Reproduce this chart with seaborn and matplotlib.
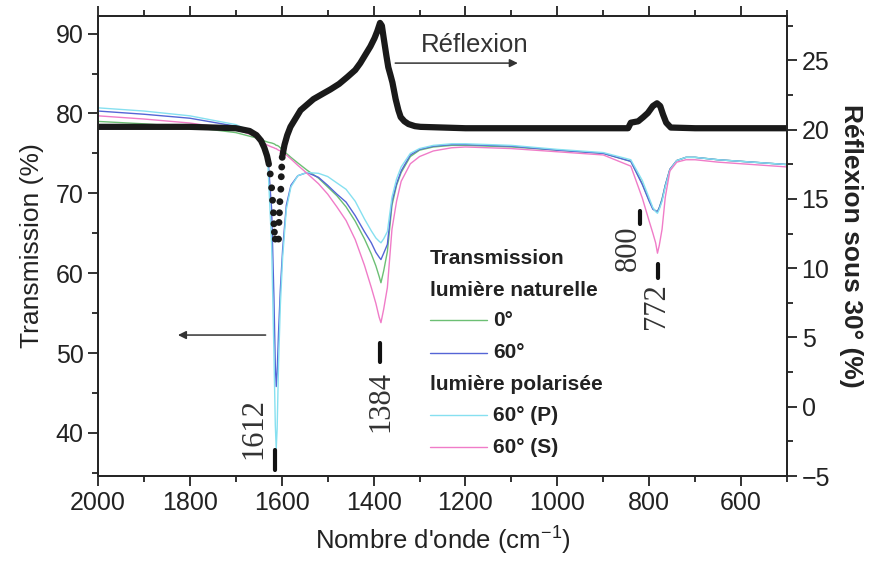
import numpy as np
import pandas as pd
import matplotlib
matplotlib.use("Agg")
import matplotlib.pyplot as plt
from matplotlib.ticker import MultipleLocator
import seaborn as sns

# transmission spectra (left axis, %)
wn = [2000, 1900, 1800, 1700, 1660, 1640, 1630, 1622, 1617, 1614,
      1612, 1610, 1607, 1603, 1598, 1590, 1580, 1565, 1545, 1520,
      1500, 1480, 1460, 1440, 1420, 1405, 1395, 1388, 1384, 1378,
      1370, 1360, 1350, 1340, 1320, 1300, 1270, 1230, 1200, 1100,
      1000, 900, 840, 815, 800, 792, 786, 782, 778, 772,
      765, 755, 740, 720, 700, 650, 600, 550, 500]
t_0 = [79.0, 78.7, 78.3, 77.6, 77.0, 76.6, 76.4, 76.3, 76.2, 76.1,
       76.0, 76.0, 75.9, 75.7, 75.4, 75.0, 74.5, 73.8, 72.9, 71.9,
       70.8, 69.7, 68.3, 66.5, 64.3, 62.4, 60.9, 59.6, 58.8, 60.3,
       62.7, 68.5, 71.0, 72.6, 74.6, 75.4, 75.8, 76.0, 76.0, 75.8,
       75.4, 75.0, 74.0, 71.2, 69.1, 68.1, 67.8, 67.7, 68.2, 69.3,
       71.0, 73.0, 74.1, 74.5, 74.5, 74.2, 74.0, 73.8, 73.6]
t_60 = [80.3, 79.9, 79.4, 78.4, 77.5, 76.4, 74.5, 68.0, 57.0, 48.5,
        45.8, 47.5, 52.5, 58.0, 63.0, 68.5, 71.0, 72.2, 72.6, 72.0,
        71.0, 69.9, 68.9, 67.2, 65.2, 63.8, 62.6, 62.0, 61.7, 62.5,
        63.6, 69.0, 71.2, 72.8, 74.8, 75.5, 75.9, 76.1, 76.1, 75.9,
        75.4, 75.0, 74.0, 71.1, 69.0, 68.0, 67.8, 67.7, 68.2, 69.2,
        71.0, 73.0, 74.1, 74.5, 74.5, 74.2, 74.0, 73.8, 73.6]
t_p = [80.7, 80.3, 79.7, 78.6, 77.6, 76.5, 73.5, 63.5, 50.0, 41.0,
       38.0, 40.5, 48.5, 56.0, 62.0, 68.0, 70.8, 72.2, 72.6, 72.5,
       72.1, 71.3, 70.5, 69.0, 66.8, 65.3, 64.4, 64.0, 63.8, 64.3,
       65.2, 69.5, 71.8, 73.3, 75.0, 75.6, 76.0, 76.2, 76.2, 76.0,
       75.5, 75.1, 74.2, 71.6, 69.4, 68.2, 67.7, 67.5, 68.0, 69.0,
       70.8, 72.9, 74.1, 74.5, 74.5, 74.2, 74.0, 73.8, 73.6]
t_s = [79.7, 79.3, 78.8, 78.0, 77.2, 76.3, 76.0, 75.8, 75.7, 75.6,
       75.6, 75.5, 75.4, 75.3, 75.1, 74.8, 74.3, 73.5, 72.5, 71.2,
       69.9, 68.3, 66.6, 64.2, 61.0, 58.2, 56.2, 54.5, 53.8, 55.5,
       58.2, 65.5, 69.0, 71.5, 73.7, 74.6, 75.3, 75.7, 75.8, 75.6,
       75.2, 74.8, 73.4, 69.4, 66.5, 65.0, 63.8, 62.5, 63.5, 65.5,
       69.5, 72.8, 73.9, 74.2, 74.2, 73.9, 73.7, 73.5, 73.3]

# reflexion at 30 deg (right axis, %)
r_wn_a = [2000, 1900, 1800, 1700, 1670, 1655, 1645, 1638, 1632, 1628]
r_a = [20.2, 20.2, 20.2, 20.1, 19.9, 19.6, 19.2, 18.7, 18.1, 17.5]
dip_wn = [1625, 1622, 1620, 1618, 1617, 1616, 1614,
          1607, 1606, 1605, 1604, 1602, 1601, 1600, 1599]
dip_r = [16.8, 15.8, 14.9, 14.0, 13.2, 12.6, 12.1,
         12.1, 13.3, 14.0, 14.8, 15.7, 16.6, 17.3, 18.0]
r_wn_b = [1598, 1594, 1588, 1581, 1570, 1559, 1545, 1531, 1510, 1494,
          1475, 1457, 1440, 1429, 1418, 1407, 1398, 1392, 1386, 1382,
          1378, 1372, 1368, 1363, 1359, 1352, 1346, 1341, 1333, 1324,
          1310, 1298, 1200, 1000, 900, 846, 840, 824, 813, 803,
          792, 783, 776, 770, 763, 753, 700, 600, 500]
r_b = [18.2, 18.9, 19.6, 20.2, 20.8, 21.4, 21.8, 22.2, 22.6, 22.9,
       23.3, 23.8, 24.3, 24.8, 25.4, 26.0, 26.6, 27.1, 27.7, 27.5,
       26.6, 25.3, 24.5, 23.9, 23.4, 22.2, 21.4, 20.9, 20.6, 20.4,
       20.25, 20.2, 20.1, 20.1, 20.1, 20.1, 20.5, 20.6, 20.9, 21.2,
       21.7, 21.9, 21.7, 21.1, 20.5, 20.15, 20.1, 20.1, 20.1]

# band labels
band_labels = ["1612", "1384", "800", "772"]
band_text_x = [1660, 1385, 846, 785]
band_text_y = [40.6, 43.9, 63.1, 55.9]
band_mark_x = [1614, 1385, 820, 781]
band_mark_lo = [35.4, 48.9, 66.1, 59.4]
band_mark_hi = [37.9, 51.2, 67.8, 61.2]

series_names = ["0°", "60°", "60° (P)", "60° (S)"]
series_vals = [t_0, t_60, t_p, t_s]
colors = ["#6cbf74", "#5565d6", "#86e0f0", "#f07cc8"]

sns.set_style("ticks")
plt.rcParams["font.family"] = ["Liberation Sans", "DejaVu Sans"]
plt.rcParams["mathtext.fontset"] = "custom"
plt.rcParams["mathtext.rm"] = "Liberation Sans"

fig = plt.figure(figsize=(8.73, 5.66), dpi=100)
ax = fig.add_axes([98 / 873, 1 - 476 / 566, 689 / 873, 460 / 566])

for name, vals, c in zip(series_names, series_vals, colors):
    sns.lineplot(x=wn, y=vals, ax=ax, color=c, lw=1.0, sort=False,
                 estimator=None)

ax.set_xlim(2000, 500)
ax.set_ylim(34.6, 92.2)
ax.xaxis.set_major_locator(MultipleLocator(200))
ax.xaxis.set_minor_locator(MultipleLocator(100))
ax.yaxis.set_major_locator(MultipleLocator(10))
ax.yaxis.set_minor_locator(MultipleLocator(5))
ax.tick_params(which="both", direction="out", width=1.3, top=True,
               labelsize=18, colors="#222222")
ax.tick_params(which="major", length=7)
ax.tick_params(which="minor", length=4)
ax.set_xlabel("Nombre d'onde (cm$^{-1}$)", fontsize=18.5, color="#222222",
              labelpad=6)
ax.set_ylabel("Transmission (%)", fontsize=19, color="#222222", labelpad=8)
for s in ax.spines.values():
    s.set_linewidth(1.4)

ax2 = ax.twinx()
sns.lineplot(x=r_wn_a, y=r_a, ax=ax2, color="#1a1a1a", lw=4.5,
             sort=False, estimator=None)
sns.lineplot(x=r_wn_b, y=r_b, ax=ax2, color="#1a1a1a", lw=4.5,
             sort=False, estimator=None)
sns.scatterplot(x=dip_wn, y=dip_r, ax=ax2, color="#1a1a1a", s=24,
                edgecolor="none")
ax2.set_xlim(2000, 500)
ax2.set_ylim(-5, 28.2)
ax2.yaxis.set_major_locator(MultipleLocator(5))
ax2.yaxis.set_minor_locator(MultipleLocator(2.5))
ax2.tick_params(which="both", direction="out", width=1.3, labelsize=18,
                colors="#222222")
ax2.tick_params(which="major", length=7)
ax2.tick_params(which="minor", length=4)
ax2.set_ylabel("Réflexion sous 30° (%)", fontsize=19, fontweight="bold",
               rotation=270, labelpad=24, color="#222222")
for s in ax2.spines.values():
    s.set_linewidth(1.4)

# arrows and labels
ax2.annotate("", xy=(1080, 24.8), xytext=(1359, 24.8),
             arrowprops=dict(arrowstyle="-|>", color="#333333", lw=1.1,
                             mutation_scale=12))
ax2.text(1298, 26.1, "Réflexion", fontsize=18.5, color="#333333",
         ha="left", va="center")
ax.annotate("", xy=(1832, 52.25), xytext=(1629, 52.25),
            arrowprops=dict(arrowstyle="-|>", color="#333333", lw=1.1,
                            mutation_scale=12))

for lab, tx, ty, mx, lo, hi in zip(band_labels, band_text_x, band_text_y,
                                   band_mark_x, band_mark_lo, band_mark_hi):
    ax.text(tx, ty, lab, rotation=90, ha="center", va="center",
            fontsize=22, family="Liberation Serif", color="#333333")
    ax.plot([mx, mx], [lo, hi], color="#111111", lw=3)

# hand-made legend
leg_x0, leg_x1, leg_tx = 0.482, 0.565, 0.573
ax.text(leg_x0, 0.472, "Transmission", transform=ax.transAxes,
        fontsize=15, fontweight="bold", va="center", color="#222222")
ax.text(leg_x0, 0.404, "lumière naturelle", transform=ax.transAxes,
        fontsize=15, fontweight="bold", va="center", color="#222222")
ax.text(leg_x0, 0.199, "lumière polarisée", transform=ax.transAxes,
        fontsize=15, fontweight="bold", va="center", color="#222222")
for name, c, ly in zip(series_names, colors, [0.339, 0.268, 0.132, 0.062]):
    ax.plot([leg_x0, leg_x1], [ly, ly], color=c, lw=1.0,
            transform=ax.transAxes)
    ax.text(leg_tx, ly, name, transform=ax.transAxes, fontsize=15,
            fontweight="bold", va="center", color="#222222")

fig.savefig("out.png", dpi=100)
